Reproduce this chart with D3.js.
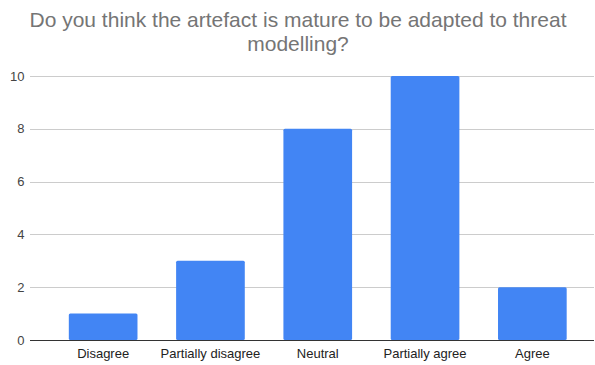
<!DOCTYPE html>
<html>
<head>
<meta charset="utf-8">
<script src="https://cdn.jsdelivr.net/npm/d3@7/dist/d3.min.js"></script>
<style>
  html, body { margin: 0; padding: 0; background: #fff; }
  svg { display: block; font-family: "Liberation Sans", Arial, sans-serif; }
</style>
</head>
<body>
<svg id="chart" width="595" height="365"></svg>
<script>
// Survey responses
const categories = ["Disagree", "Partially disagree", "Neutral", "Partially agree", "Agree"];
const counts = [1, 3, 8, 10, 2];
const yTicks = [0, 2, 4, 6, 8, 10];
const titleLines = ["Do you think the artefact is mature to be adapted to threat", "modelling?"];

const svg = d3.select("#chart");
const gridLeft = 30, gridRight = 594;
const plotTop = 76, plotBottom = 340;

const x = d3.scaleBand()
  .domain(categories)
  .range([49.5, 586])
  .paddingInner(0.36)
  .paddingOuter(0.18);

const y = d3.scaleLinear()
  .domain([0, 10])
  .range([plotBottom, plotTop]);

// Title
svg.append("g")
  .selectAll("text")
  .data(titleLines)
  .join("text")
  .attr("x", 298)
  .attr("y", (d, i) => 27 + i * 24)
  .attr("text-anchor", "middle")
  .attr("font-size", 21)
  .attr("fill", "#757575")
  .text(d => d);

// Horizontal gridlines
svg.append("g")
  .selectAll("line")
  .data(yTicks.filter(t => t !== 0))
  .join("line")
  .attr("x1", gridLeft)
  .attr("x2", gridRight)
  .attr("y1", d => Math.round(y(d)) + 0.5)
  .attr("y2", d => Math.round(y(d)) + 0.5)
  .attr("stroke", "#cccccc")
  .attr("stroke-width", 1);

// Y tick labels
svg.append("g")
  .selectAll("text")
  .data(yTicks)
  .join("text")
  .attr("x", 24.5)
  .attr("y", d => y(d) + 4.5)
  .attr("text-anchor", "end")
  .attr("font-size", 13)
  .attr("fill", "#444444")
  .text(d => d);

// Bars
svg.append("g")
  .selectAll("rect")
  .data(categories)
  .join("rect")
  .attr("x", d => x(d))
  .attr("y", (d, i) => y(counts[i]))
  .attr("width", x.bandwidth())
  .attr("height", (d, i) => y(0) - y(counts[i]))
  .attr("rx", 1.5)
  .attr("fill", "#4285f4");

// Baseline
svg.append("line")
  .attr("x1", gridLeft)
  .attr("x2", gridRight)
  .attr("y1", y(0) + 0.5)
  .attr("y2", y(0) + 0.5)
  .attr("stroke", "#333333")
  .attr("stroke-width", 1);

// Category labels
svg.append("g")
  .selectAll("text")
  .data(categories)
  .join("text")
  .attr("x", d => x(d) + x.bandwidth() / 2)
  .attr("y", 358)
  .attr("text-anchor", "middle")
  .attr("font-size", 13)
  .attr("fill", "#222222")
  .text(d => d);
</script>
</body>
</html>
